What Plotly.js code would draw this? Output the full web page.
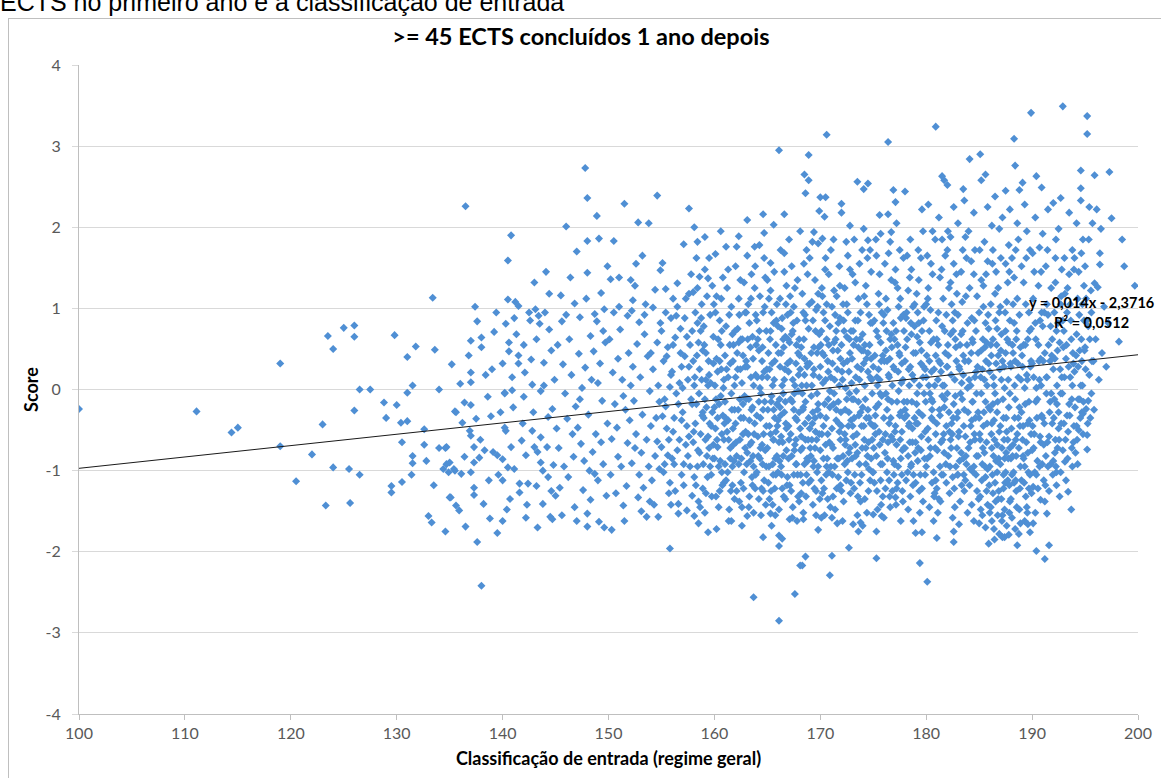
<!DOCTYPE html>
<html>
<head>
<meta charset="utf-8">
<script src="https://cdn.plot.ly/plotly-3.0.1.min.js"></script>
<style>
  html, body { margin: 0; padding: 0; background: #fff; width: 1161px; height: 778px; overflow: hidden; }
  #caption { position: absolute; left: 0; top: -12px; font-family: "Liberation Sans", Arial, sans-serif; font-size: 25px; color: #000; white-space: nowrap; }
  #chart { position: absolute; left: 8px; top: 18px; width: 1153px; height: 760px; border-left: 1px solid #bfbfbf; border-top: 1px solid #bfbfbf; box-sizing: border-box; }
</style>
</head>
<body>
<div id="caption">ECTS no primeiro ano e a classificação de entrada</div>
<div id="chart"></div>
<script>
// ---- Data (entrance grade, score) ----
const chartTitle = ">= 45 ECTS concluídos 1 ano depois";
const xAxisTitle = "Classificação de entrada (regime geral)";
const yAxisTitle = "Score";
const trendLabel = "y = 0,014x - 2,3716";
const r2Label = "R² = 0,0512";
const trendSlope = 0.014;
const trendIntercept = -2.3716;
const xTicks = [100,110,120,130,140,150,160,170,180,190,200];
const yTicks = [-4,-3,-2,-1,0,1,2,3,4];

const pts100_136 = [[100.0,-0.24],[111.1,-0.27],[114.4,-0.53],[115.0,-0.47],[119.0,0.32],[119.0,-0.70],[120.5,-1.13],[122.0,-0.80],[123.0,-0.43],[123.3,-1.43],[123.5,0.66],[124.0,0.50],[124.0,-0.96],[125.0,0.76],[125.5,-0.98],[125.6,-1.40],[126.0,0.79],[126.0,0.65],[126.0,-0.26],[126.5,0.00],[126.5,-1.05],[127.5,0.00],[128.8,-0.16],[129.0,-0.35],[129.5,-1.19],[129.5,-1.27],[129.8,0.67],[130.0,-0.19],[130.4,-0.41],[131.0,-0.39],[130.5,-0.65],[130.5,-1.14],[131.0,0.40],[131.0,-0.04],[131.5,0.05],[131.5,-0.82],[131.5,-0.91],[131.4,-1.05],[131.8,0.53],[132.6,-0.49],[132.6,-0.68],[132.8,-0.88],[133.0,-1.56],[133.3,-1.64],[133.4,1.13],[133.6,0.49],[133.5,-1.18],[134.0,0.00],[134.0,-0.72],[134.6,-0.72],[134.4,-0.98],[134.9,-1.02],[135.5,-1.00],[134.6,-1.75],[134.7,-0.92],[135.0,-1.33],[135.6,-1.43],[135.9,-1.49],[135.2,0.31],[135.6,-0.28],[136.0,0.07],[135.1,-1.33],[135.5,-0.27],[134.7,-0.71],[135.0,-0.90],[135.4,-0.98]];

const pts136_145 = [[136.5,2.26],[136.5,-1.69],[137.6,-1.88],[137.3,-1.30],[137.3,-1.21],[138.0,-2.42],[138.2,-1.41],[138.8,-1.59],[139.5,-1.77],[140.0,-1.62],[137.6,0.84],[137.0,0.60],[138.0,0.64],[138.0,0.52],[137.0,0.21],[137.0,0.09],[139.0,0.25],[140.0,0.32],[140.6,0.58],[140.6,0.47],[141.5,0.42],[141.5,0.32],[140.9,0.15],[140.2,-0.04],[138.6,-0.09],[142.0,0.55],[142.5,0.95],[142.6,0.85],[143.1,0.99],[143.4,0.91],[143.5,0.81],[144.0,0.95],[144.4,1.18],[140.8,1.90],[140.5,1.59],[140.5,1.11],[141.2,1.08],[141.5,1.03],[144.4,0.74],[143.8,-1.41],[144.5,-1.57],
[136.4,-0.16],[137.0,-0.19],[137.5,-0.36],[136.9,-0.51],[137.0,-0.57],[137.3,-0.71],[137.8,-0.84],[137.3,-0.90],[136.1,-1.04],[137.0,-1.02],[136.4,-0.83],[139.1,-0.77],[139.5,-0.81],[140.0,-0.86],[140.2,-0.47],[140.3,-0.51],[140.8,-0.71],[140.5,-0.96],[141.1,-0.98],[141.6,-1.16],[142.4,-1.16],[143.2,-1.19],[140.0,-1.12],[141.9,-0.42],[142.2,-0.81],[143.0,-0.71],[143.3,-0.77],[143.6,-0.90],[143.8,-1.00],[144.3,-1.08],[144.6,-1.25],[142.8,-0.51],[143.6,-0.59],[144.3,-0.34],[144.7,-0.24],[143.9,0.05],[142.8,0.06],[140.9,-0.01],[140.2,-0.05],[142.0,-0.09],
[136.8,0.42],[137.9,-0.62],[138.4,0.18],[138.9,-0.33],[139.2,0.71],[139.6,-1.05],[139.8,-0.28],[138.7,-1.12],[136.2,-0.41],[137.4,1.02],[139.4,0.95],[138.3,-0.75],[140.3,0.81],[140.7,-1.35],[141.0,-0.22],[141.3,0.68],[141.8,-0.63],[142.1,0.21],[142.3,-1.42],[142.7,0.37],[142.9,-0.28],[143.2,0.62],[143.6,-0.02],[143.9,0.33],[144.2,-0.71],[144.6,0.48],[144.8,-0.93],[144.1,1.45],[143.0,1.32],[142.2,-1.58],[141.6,-1.27],[144.9,0.12],[141.1,0.88],[143.3,-1.70],[140.4,-1.48],[144.7,-1.60]];

const pts145_155 = [[145.5,1.16],[146.8,1.06],[145.6,0.84],[147.3,0.89],[148.3,0.66],[148.9,0.84],[149.3,1.19],[149.6,0.99],[146.0,2.01],[148.9,2.14],[148.0,1.83],[149.1,1.86],[147.0,1.70],[148.0,1.44],[147.8,2.73],[148.0,2.36],[146.1,-0.36],[146.6,-0.55],[147.1,-0.47],[147.4,-0.67],[147.7,-0.88],[148.2,-1.00],[148.7,-1.04],[149.0,-1.12],[147.0,-1.62],[148.0,-1.69],[148.0,-1.53],[149.1,-1.63],[149.6,-1.70],[145.0,-1.31],[145.4,-1.21],
[145.2,0.55],[145.7,0.31],[145.9,-0.05],[146.3,0.62],[146.5,0.18],[146.9,-0.21],[147.2,0.44],[147.5,0.02],[147.8,0.27],[148.1,-0.31],[148.4,0.12],[148.6,0.47],[148.8,-0.55],[149.2,0.32],[149.4,-0.14],[149.7,0.58],[149.9,-0.42],[145.3,-0.72],[145.8,-0.95],[146.2,-1.08],[146.7,-0.83],[147.6,-1.24],[148.5,-0.77],[149.5,-0.92],[149.8,-1.31],[146.4,1.38],[147.9,1.12],[149.0,0.08],[145.1,-0.48],[146.8,-1.45],[148.3,-1.36],[149.3,-0.65],[147.3,-0.12],[146.0,0.92],[148.7,0.93],[149.9,1.52],[149.5,0.72],[145.6,-1.55],
[150.3,-1.73],[151.4,-1.43],[153.1,-1.50],[153.6,-1.57],[154.7,-1.57],[151.5,2.29],[154.6,2.39],[152.8,2.06],[153.8,2.05],[150.5,1.83],[152.6,1.55],[151.0,1.38],[152.1,1.35],[152.3,1.10],[152.2,0.97],[154.4,1.23],[150.2,1.36],
[150.1,0.62],[150.4,0.21],[150.6,-0.18],[150.8,-0.47],[150.9,-0.83],[150.2,-1.05],[150.7,-1.28],[150.5,0.95],[150.3,-0.61],[150.9,0.38],[151.1,0.74],[151.3,0.12],[151.6,-0.25],[151.8,-0.66],[151.2,-0.95],[151.7,-1.19],[151.9,0.45],[151.4,-0.08],[151.5,-1.62],[151.0,1.02],[151.8,0.91],
[152.0,-0.38],[152.3,0.28],[152.5,-0.72],[152.7,0.56],[152.9,-1.05],[152.4,-0.14],[152.8,-1.33],[152.1,0.05],[152.6,-0.55],[152.2,-0.91],[152.9,0.83],[152.5,1.28],[153.0,0.15],[153.2,-0.31],[153.4,0.68],[153.6,-0.62],[153.8,-0.95],[153.3,-1.21],[153.7,0.41],[153.9,-0.02],[153.5,1.05],[153.1,-0.78],[153.9,-1.38],[153.4,0.92],[153.2,1.65],
[154.0,-0.45],[154.2,0.25],[154.4,-0.82],[154.6,0.58],[154.8,-0.15],[154.1,-1.12],[154.5,-0.35],[154.9,0.82],[154.3,-1.42],[154.7,0.05],[154.2,1.01],[154.8,-0.98],[154.6,-0.64],[154.0,0.45],[154.9,1.47]];

const pts155_165 = [[155.8,-1.96],[156.6,-1.53],[157.4,-1.49],[158.1,-1.56],[158.5,-1.65],[159.4,-1.76],[157.6,2.23],[158.1,2.00],[159.1,1.88],[157.1,1.79],[156.5,1.31],[156.1,1.12],[157.6,1.18],[158.0,1.20],[158.4,1.25],[158.6,1.39],[159.1,1.48],[159.4,1.37],[155.1,1.56],[155.4,1.24],
[155.0,0.72],[155.2,0.35],[155.3,-0.12],[155.5,-0.48],[155.6,-0.81],[155.8,-1.15],[155.9,0.18],[155.1,-0.33],[155.4,0.95],[155.7,-0.62],[155.2,-1.02],[155.9,-1.42],[155.6,0.52],[155.3,-0.92],[155.8,0.03],[155.0,-0.71],[155.5,0.41],[155.7,-1.28],[155.4,-0.21],[155.9,0.88],
[156.0,0.22],[156.2,-0.35],[156.3,0.64],[156.5,-0.75],[156.7,0.08],[156.9,-1.05],[156.1,-0.52],[156.4,0.91],[156.6,-0.18],[156.8,0.45],[156.2,-0.92],[156.9,-0.38],[156.5,1.02],[156.3,-1.25],[156.7,-0.62],[156.0,-0.85],[156.8,0.75],[156.4,-0.05],[156.6,-1.41],[156.1,0.55],[156.9,0.28],
[157.0,-0.28],[157.2,0.41],[157.3,-0.68],[157.5,0.12],[157.7,-0.95],[157.9,0.72],[157.1,-1.18],[157.4,-0.45],[157.6,0.28],[157.8,-0.12],[157.2,0.88],[157.5,-0.82],[157.9,-1.31],[157.3,1.12],[157.7,0.55],[157.0,0.02],[157.6,-0.58],[157.8,1.42],[157.4,0.65],[157.1,-0.92],[157.9,-0.18],
[158.0,0.35],[158.2,-0.42],[158.4,0.82],[158.6,-0.78],[158.8,0.12],[158.1,-1.08],[158.3,-0.18],[158.5,0.58],[158.7,-0.55],[158.9,-1.22],[158.2,0.95],[158.6,0.25],[158.4,-0.95],[158.8,1.05],[158.0,-0.65],[158.3,1.62],[158.9,-0.28],[158.5,-1.38],[158.7,0.72],[158.1,0.05],[158.9,0.48],[158.4,1.82],
[159.0,-0.35],[159.2,0.45],[159.3,-0.82],[159.5,0.18],[159.7,-1.05],[159.9,0.65],[159.1,-0.12],[159.4,-0.58],[159.6,0.92],[159.8,-0.28],[159.2,-1.28],[159.5,-0.72],[159.9,0.32],[159.3,1.15],[159.7,-0.45],[159.0,0.78],[159.6,-0.95],[159.8,1.28],[159.4,0.05],[159.1,-1.52],[159.9,-0.68],[159.5,1.62],[159.2,0.12],
[160.1,1.67],[161.1,1.76],[162.1,1.76],[162.3,1.89],[163.1,1.65],[163.8,1.76],[164.7,1.93],[160.6,1.95],[163.1,2.09],[164.6,2.16],[161.6,-1.62],[163.1,-1.56],[164.6,-1.82],[163.7,-2.56],
[160.0,-0.22],[160.2,0.38],[160.3,-0.71],[160.5,0.85],[160.7,-1.02],[160.9,0.12],[160.1,-0.48],[160.4,-0.95],[160.6,0.55],[160.8,-0.32],[160.2,1.15],[160.5,-1.25],[160.9,-0.62],[160.3,0.22],[160.7,0.72],[160.0,-0.85],[160.6,-0.08],[160.8,1.38],[160.4,-1.45],[160.1,0.95],[160.9,-1.15],[160.5,0.35],[160.3,-0.35],[160.7,-0.55],[160.2,-1.72],
[161.0,0.42],[161.2,-0.52],[161.3,0.15],[161.5,-0.85],[161.7,0.68],[161.9,-0.25],[161.1,-1.12],[161.4,0.92],[161.6,-0.05],[161.8,-0.68],[161.2,1.25],[161.5,0.32],[161.9,-1.35],[161.3,-0.38],[161.7,-0.95],[161.0,-0.15],[161.6,1.02],[161.8,0.55],[161.4,-1.48],[161.1,0.78],[161.9,0.05],[161.5,-0.72],[161.3,1.48],[161.7,-1.18],[161.0,-0.92],
[162.0,-0.42],[162.2,0.25],[162.3,-0.92],[162.5,0.62],[162.7,-0.18],[162.9,0.95],[162.1,-1.25],[162.4,-0.62],[162.6,0.08],[162.8,-1.02],[162.2,0.75],[162.5,-0.35],[162.9,-0.72],[162.3,1.12],[162.7,0.42],[162.0,0.15],[162.6,-1.45],[162.8,1.32],[162.4,-0.12],[162.1,-0.82],[162.9,0.28],[162.5,-1.15],[162.3,0.58],[162.7,-0.55],[162.0,1.52],[162.6,-1.68],
[163.0,0.35],[163.2,-0.55],[163.3,0.82],[163.5,-0.25],[163.7,-0.95],[163.9,0.18],[163.1,-0.78],[163.4,0.52],[163.6,-1.18],[163.8,-0.42],[163.2,1.05],[163.5,-0.65],[163.9,0.92],[163.3,-1.32],[163.7,0.05],[163.0,-0.12],[163.6,0.65],[163.8,1.25],[163.4,-0.88],[163.1,0.28],[163.9,-1.05],[163.5,1.42],[163.3,-0.38],[163.7,-1.52],[163.0,0.95],[163.6,-0.22],
[164.0,-0.32],[164.2,0.48],[164.3,-0.85],[164.5,0.15],[164.7,-1.12],[164.9,0.72],[164.1,-0.58],[164.4,-0.05],[164.6,0.95],[164.8,-0.75],[164.2,-1.35],[164.5,0.35],[164.9,-0.45],[164.3,1.15],[164.7,0.22],[164.0,-1.02],[164.6,-0.25],[164.8,1.38],[164.4,-1.55],[164.1,0.62],[164.9,-0.95],[164.5,-0.68],[164.3,0.02],[164.7,1.62],[164.0,0.85],[164.6,-1.25],[164.2,-0.15]];

const pts165_175 = [[166.1,2.95],[166.6,2.16],[165.6,2.03],[165.3,1.56],[166.6,1.68],[165.3,-1.53],[166.1,-1.80],[166.4,-1.84],[166.1,-1.93],[167.6,-2.52],[166.1,-2.85],[168.1,-2.17],[167.1,-1.60],[168.3,-2.17],[168.6,-2.06],[168.4,-1.60],[169.8,-1.73],[168.9,2.89],[168.5,2.65],[168.9,2.58],[168.6,2.42],
[165.0,0.15],[165.2,-0.45],[165.3,0.72],[165.5,-0.92],[165.7,0.35],[165.9,-0.18],[165.1,-1.15],[165.4,0.95],[165.6,-0.62],[165.8,0.55],[165.2,-1.35],[165.5,0.05],[165.9,-0.82],[165.3,1.22],[165.7,-0.35],[165.0,-0.72],[165.6,0.82],[165.8,-1.05],[165.4,-0.08],[165.1,0.45],[165.9,1.05],[165.5,-1.42],[165.3,-0.55],[165.7,-1.22],[165.0,1.35],[165.6,-0.25],[165.2,0.25],[165.8,-0.52],[165.4,-1.68],
[166.0,-0.38],[166.2,0.28],[166.3,-0.95],[166.5,0.62],[166.7,-0.15],[166.9,0.92],[166.1,-0.65],[166.4,-1.22],[166.6,0.12],[166.8,-0.48],[166.2,1.12],[166.5,-0.82],[166.9,-1.08],[166.3,0.45],[166.7,-1.35],[166.0,0.78],[166.6,-0.28],[166.8,1.28],[166.4,0.05],[166.1,-1.48],[166.9,0.32],[166.5,-0.05],[166.3,-0.58],[166.7,0.65],[166.0,-1.02],[166.6,1.45],[166.2,-0.22],[166.8,-0.75],[166.4,0.88],
[167.0,0.22],[167.2,-0.55],[167.3,0.68],[167.5,-0.25],[167.7,-0.92],[167.9,0.45],[167.1,-1.18],[167.4,0.12],[167.6,-0.68],[167.8,0.85],[167.2,-0.12],[167.5,1.02],[167.9,-1.32],[167.3,-0.82],[167.7,0.32],[167.0,-0.45],[167.6,1.25],[167.8,-0.38],[167.4,-1.45],[167.1,0.58],[167.9,-0.02],[167.5,-1.05],[167.3,1.52],[167.7,-0.62],[167.0,-0.85],[167.6,0.05],[167.2,0.95],[167.8,-1.62],[167.4,0.72],
[168.0,-0.28],[168.2,0.52],[168.3,-0.72],[168.5,0.18],[168.7,-1.05],[168.9,0.75],[168.1,-0.48],[168.4,0.95],[168.6,-0.15],[168.8,-0.88],[168.2,-1.28],[168.5,0.38],[168.9,-0.35],[168.3,1.18],[168.7,0.05],[168.0,0.62],[168.6,-0.62],[168.8,1.42],[168.4,-1.52],[168.1,0.25],[168.9,-1.15],[168.5,-0.92],[168.3,-0.05],[168.7,1.72],[168.0,-1.38],[168.6,0.85],[168.2,-0.58],[168.8,0.32],[168.4,-0.22],[168.1,1.95],
[169.0,0.32],[169.2,-0.62],[169.3,0.85],[169.5,-0.35],[169.7,-1.02],[169.9,0.15],[169.1,-0.82],[169.4,0.52],[169.6,-1.25],[169.8,-0.18],[169.2,1.08],[169.5,-0.72],[169.9,0.68],[169.3,-1.42],[169.7,-0.05],[169.0,-0.48],[169.6,0.98],[169.8,-0.95],[169.4,0.25],[169.1,-1.12],[169.9,-0.55],[169.5,1.35],[169.3,-0.28],[169.7,0.45],[169.0,1.62],[169.6,-1.55],[169.2,0.05],[169.8,1.18],[169.4,-0.88],
[170.6,3.14],[170.0,2.37],[170.5,2.37],[170.9,-2.29],[171.1,-2.05],[172.7,-1.95],[173.5,2.56],[174.5,2.54],[174.1,2.47],[170.1,-1.58],[171.1,-1.58],[172.0,2.29],[172.0,2.18],[172.8,2.02],[174.1,1.98],[174.5,1.84],[169.9,2.20],[170.4,2.13],[169.4,1.94],[169.8,1.80],[170.2,1.86],[173.6,-1.75],[173.8,-1.64],[173.1,-1.66],
[170.0,-0.32],[170.2,0.45],[170.3,-0.85],[170.5,0.12],[170.7,-0.55],[170.9,0.78],[170.1,-1.12],[170.4,-0.18],[170.6,0.62],[170.8,-1.02],[170.2,1.15],[170.5,-0.68],[170.9,-0.22],[170.3,0.95],[170.7,-1.35],[170.0,0.28],[170.6,-0.95],[170.8,1.42],[170.4,-1.55],[170.1,0.72],[170.9,-0.02],[170.5,1.62],[170.3,-0.45],[170.7,0.35],[170.0,-0.75],[170.6,1.05],[170.2,-1.28],[170.8,0.55],
[171.0,0.15],[171.2,-0.72],[171.3,0.58],[171.5,-0.25],[171.7,-1.08],[171.9,0.38],[171.1,-0.48],[171.4,0.92],[171.6,-0.85],[171.8,0.05],[171.2,-1.32],[171.5,0.72],[171.9,-0.62],[171.3,1.22],[171.7,-0.15],[171.0,-0.95],[171.6,0.25],[171.8,1.52],[171.4,-1.48],[171.1,1.02],[171.9,-1.18],[171.5,-0.38],[171.3,-0.05],[171.7,0.82],[171.0,1.72],[171.6,-1.65],[171.2,0.48],[171.8,-0.52],
[172.0,-0.45],[172.2,0.32],[172.3,-0.92],[172.5,0.65],[172.7,-0.28],[172.9,-1.15],[172.1,0.12],[172.4,-0.62],[172.6,0.95],[172.8,0.45],[172.2,-1.38],[172.5,-0.12],[172.9,0.72],[172.3,1.25],[172.7,-0.78],[172.0,0.55],[172.6,-1.02],[172.8,1.48],[172.4,0.02],[172.1,-1.62],[172.9,-0.38],[172.5,1.05],[172.3,-0.55],[172.7,0.22],[172.0,-1.25],[172.6,1.65],[172.2,0.85],[172.8,-0.72],
[173.0,0.38],[173.2,-0.35],[173.3,0.85],[173.5,-0.78],[173.7,0.12],[173.9,-1.05],[173.1,-0.58],[173.4,0.62],[173.6,-0.15],[173.8,0.95],[173.2,-1.22],[173.5,0.28],[173.9,-0.45],[173.3,1.32],[173.7,-0.92],[173.0,-0.12],[173.6,1.12],[173.8,-1.38],[173.4,-0.02],[173.1,0.72],[173.9,0.48],[173.5,-1.55],[173.3,-0.68],[173.7,1.55],[173.0,-0.85],[173.6,0.52],[173.2,1.85],[173.8,-0.28],
[174.0,-0.22],[174.2,0.55],[174.3,-0.72],[174.5,0.22],[174.7,-1.12],[174.9,0.82],[174.1,-0.45],[174.4,1.05],[174.6,-0.35],[174.8,-0.85],[174.2,-1.35],[174.5,0.45],[174.9,-0.05],[174.3,1.28],[174.7,0.15],[174.0,0.68],[174.6,-0.98],[174.8,1.45],[174.4,-1.52],[174.1,0.32],[174.9,-0.62],[174.5,-0.25],[174.3,-0.92],[174.7,1.72],[174.0,-1.68],[174.6,0.92],[174.2,0.05],[174.8,0.38]];

const pts175_185 = [[175.3,-2.08],[176.4,3.05],[176.9,2.46],[178.0,2.44],[177.1,2.31],[175.6,2.15],[176.4,2.16],[175.7,1.92],[176.7,1.94],[179.4,-2.14],[180.1,-2.37],[179.0,-1.77],[179.6,-1.76],[175.3,-1.75],[175.0,-1.54],[175.8,-1.56],[177.6,-1.62],[177.1,-1.33],
[175.0,0.28],[175.2,-0.55],[175.3,0.72],[175.5,-0.18],[175.7,-0.92],[175.9,0.42],[175.1,-1.15],[175.4,0.05],[175.6,-0.68],[175.8,0.95],[175.2,-0.32],[175.5,1.18],[175.9,-1.32],[175.3,-0.82],[175.7,0.58],[175.0,-0.45],[175.6,1.42],[175.8,-0.08],[175.4,-1.48],[175.1,0.85],[175.9,-0.62],[175.5,0.25],[175.3,1.65],[175.7,-1.12],[175.0,-1.02],[175.6,0.12],
[176.0,-0.35],[176.2,0.48],[176.3,-1.02],[176.5,0.15],[176.7,-0.58],[176.9,0.82],[176.1,-0.78],[176.4,-0.12],[176.6,0.62],[176.8,-1.25],[176.2,1.12],[176.5,-0.42],[176.9,-0.88],[176.3,0.35],[176.7,1.35],[176.0,0.92],[176.6,-1.45],[176.8,0.05],[176.4,-0.65],[176.1,1.55],[176.9,0.28],[176.5,-1.12],[176.3,-0.25],[176.7,0.68],[176.0,-1.58],[176.6,1.82],[176.2,-0.05],
[177.0,0.25],[177.2,-0.68],[177.3,0.55],[177.5,-0.32],[177.7,-1.05],[177.9,0.72],[177.1,-0.45],[177.4,1.02],[177.6,-0.85],[177.8,0.12],[177.2,-1.22],[177.5,0.42],[177.9,-0.15],[177.3,1.25],[177.7,-0.52],[177.0,-0.92],[177.6,0.88],[177.8,-1.38],[177.4,-0.02],[177.1,1.48],[177.9,-0.72],[177.5,1.72],[177.3,-1.15],[177.7,0.32],[177.0,0.62],[177.6,-0.28],[177.2,2.05],
[178.0,-0.25],[178.2,0.62],[178.3,-0.82],[178.5,0.28],[178.7,-0.48],[178.9,1.05],[178.1,-1.12],[178.4,0.05],[178.6,-0.92],[178.8,0.45],[178.2,-0.15],[178.5,-1.32],[178.9,0.78],[178.3,1.22],[178.7,-0.65],[178.0,0.35],[178.6,1.48],[178.8,-1.05],[178.4,-0.42],[178.1,0.88],[178.9,-0.35],[178.5,1.85],[178.3,-1.48],[178.7,0.18],[178.0,-0.72],[178.6,0.68],[178.2,1.65],[178.8,-1.62],
[179.0,0.45],[179.2,-0.42],[179.3,0.82],[179.5,-0.75],[179.7,0.15],[179.9,-1.05],[179.1,-0.18],[179.4,0.58],[179.6,-1.22],[179.8,1.02],[179.2,-0.88],[179.5,0.32],[179.9,-0.52],[179.3,1.35],[179.7,-1.38],[179.0,-0.65],[179.6,0.72],[179.8,-0.05],[179.4,-1.52],[179.1,1.18],[179.9,0.25],[179.5,1.62],[179.3,-0.28],[179.7,1.95],[179.0,-1.15],[179.6,2.22],[179.2,0.95],
[180.9,3.24],[181.7,2.58],[181.5,2.63],[183.5,2.47],[183.6,2.33],[184.1,2.84],[181.0,-1.83],[182.6,-1.88],[182.6,-1.75],[183.1,-1.66],[180.2,2.28],[181.2,2.12],[182.0,2.52],[182.6,2.25],[183.0,2.05],[184.5,2.18],[180.6,1.95],[182.3,1.88],
[180.0,0.15],[180.2,-0.62],[180.3,0.72],[180.5,-0.35],[180.7,-1.02],[180.9,0.42],[180.1,-0.85],[180.4,0.98],[180.6,-0.15],[180.8,-1.28],[180.2,1.25],[180.5,0.22],[180.9,-0.55],[180.3,-1.45],[180.7,0.62],[180.0,-0.95],[180.6,1.42],[180.8,0.05],[180.4,-0.72],[180.1,1.65],[180.9,-1.12],[180.5,-0.12],[180.3,0.35],[180.7,-1.62],[180.0,1.05],
[181.0,-0.42],[181.2,0.35],[181.3,-0.95],[181.5,0.78],[181.7,-0.22],[181.9,-1.15],[181.1,0.12],[181.4,-0.65],[181.6,1.12],[181.8,0.45],[181.2,-1.35],[181.5,-0.08],[181.9,0.92],[181.3,1.38],[181.7,-0.78],[181.0,0.62],[181.6,-1.05],[181.8,1.65],[181.4,0.22],[181.1,-1.52],[181.9,-0.45],[181.5,1.85],[181.3,-0.32],[181.7,0.05],[181.0,-1.22],
[182.0,0.28],[182.2,-0.52],[182.3,0.68],[182.5,-1.08],[182.7,0.12],[182.9,-0.35],[182.1,-0.82],[182.4,1.05],[182.6,-0.18],[182.8,0.52],[182.2,-1.28],[182.5,0.85],[182.9,-0.72],[182.3,1.32],[182.7,-1.45],[182.0,-0.05],[182.6,1.55],[182.8,-0.95],[182.4,-0.42],[182.1,0.42],[182.9,1.18],[182.5,-1.58],[182.3,-0.62],[182.7,0.95],[182.0,1.72],
[183.0,-0.28],[183.2,0.55],[183.3,-0.78],[183.5,0.18],[183.7,-1.12],[183.9,0.82],[183.1,-0.52],[183.4,1.08],[183.6,-0.25],[183.8,-0.92],[183.2,-1.38],[183.5,0.42],[183.9,0.02],[183.3,1.45],[183.7,-0.58],[183.0,0.92],[183.6,-1.25],[183.8,1.62],[183.4,-0.12],[183.1,0.28],[183.9,-1.52],[183.5,-0.85],[183.3,0.68],[183.7,1.88],[183.0,-1.05],
[184.0,0.35],[184.2,-0.45],[184.3,0.88],[184.5,-0.95],[184.7,0.22],[184.9,-0.28],[184.1,-1.18],[184.4,0.58],[184.6,-0.62],[184.8,1.15],[184.2,0.05],[184.5,1.42],[184.9,-0.82],[184.3,-1.42],[184.7,0.72],[184.0,-0.72],[184.6,1.72],[184.8,-1.25],[184.4,-0.15],[184.1,1.25],[184.9,0.45],[184.5,-1.62],[184.3,-0.38],[184.7,-1.05],[184.0,1.95],[184.6,0.15]];

const pts185_200 = [[185.1,2.90],[185.2,2.58],[185.6,2.65],[188.3,3.09],[189.9,3.41],[188.4,2.76],[188.8,2.46],[185.9,-1.90],[185.6,-1.70],[187.4,-1.82],[187.8,-1.79],[189.6,-1.66],[189.8,-1.76],[185.8,2.25],[186.5,2.38],[187.2,2.12],[187.9,2.22],[188.6,2.05],[189.3,2.28],[186.2,2.02],[189.1,2.55],[187.5,2.45],[186.9,1.98],
[185.0,-0.35],[185.2,0.48],[185.3,-0.92],[185.5,0.12],[185.7,-1.25],[185.9,0.75],[185.1,-0.62],[185.4,1.02],[185.6,-0.15],[185.8,-1.42],[185.2,1.35],[185.5,-0.78],[185.9,0.32],[185.3,-1.55],[185.7,0.58],[185.0,0.95],[185.6,-1.08],[185.8,1.58],[185.4,-0.45],[185.1,-1.32],[185.9,-0.22],[185.5,1.82],[185.3,0.25],[185.7,-0.65],[185.0,-1.65],[185.6,0.82],[185.2,-0.05],[185.8,-0.98],[185.4,1.28],
[186.0,0.22],[186.2,-0.72],[186.3,0.62],[186.5,-1.15],[186.7,-0.28],[186.9,0.95],[186.1,-1.45],[186.4,0.05],[186.6,-0.88],[186.8,0.42],[186.2,-1.62],[186.5,1.18],[186.9,-0.52],[186.3,-1.28],[186.7,0.75],[186.0,-0.95],[186.6,1.45],[186.8,-1.35],[186.4,-0.38],[186.1,1.05],[186.9,-1.78],[186.5,-0.05],[186.3,1.72],[186.7,-1.02],[186.0,-1.52],[186.6,0.32],[186.2,-0.42],[186.8,1.25],[186.4,-1.72],[186.1,0.55],[186.7,-0.68],[186.3,-0.18],
[187.0,-0.45],[187.2,0.35],[187.3,-1.05],[187.5,0.72],[187.7,-0.62],[187.9,-1.38],[187.1,0.12],[187.4,-0.85],[187.6,1.08],[187.8,-0.22],[187.2,-1.55],[187.5,0.45],[187.9,0.85],[187.3,-1.22],[187.7,1.32],[187.0,-0.92],[187.6,-1.68],[187.8,0.58],[187.4,0.02],[187.1,-1.35],[187.9,-0.72],[187.5,1.55],[187.3,-0.35],[187.7,-1.12],[187.0,1.02],[187.6,-0.52],[187.2,-1.82],[187.8,1.78],[187.4,-1.48],[187.1,0.68],[187.9,-0.05],[187.5,-1.02],
[188.0,0.28],[188.2,-0.68],[188.3,0.82],[188.5,-1.25],[188.7,-0.35],[188.9,0.52],[188.1,-1.05],[188.4,-0.12],[188.6,1.12],[188.8,-1.48],[188.2,0.45],[188.5,-0.82],[188.9,-1.65],[188.3,1.38],[188.7,0.15],[188.0,-1.35],[188.6,-0.55],[188.8,0.92],[188.4,-1.72],[188.1,1.62],[188.9,-0.95],[188.5,0.62],[188.3,-1.15],[188.7,1.85],[188.0,-0.85],[188.6,-1.92],[188.2,1.05],[188.8,-0.22],[188.4,0.35],[188.1,-1.58],
[189.0,-0.28],[189.2,0.55],[189.3,-0.95],[189.5,0.18],[189.7,-1.22],[189.9,0.75],[189.1,-0.62],[189.4,1.05],[189.6,-0.42],[189.8,-1.05],[189.2,1.32],[189.5,-1.45],[189.9,0.35],[189.3,0.02],[189.7,0.95],[189.0,1.52],[189.6,-0.78],[189.8,1.72],[189.4,-1.32],[189.1,0.28],[189.9,-0.55],[189.5,1.95],[189.3,-1.62],[189.7,-0.15],[189.0,-1.12],[189.6,0.62],[189.2,-0.85],
[190.4,2.63],[190.9,2.49],[192.9,3.49],[192.7,2.36],[192.0,2.30],[194.6,2.70],[194.6,2.48],[194.6,2.33],[195.2,3.37],[195.2,3.15],[190.4,-1.99],[191.2,-2.09],[191.6,-1.92],[191.4,-1.53],[190.8,-1.36],[190.1,-1.20],[193.4,-1.26],[193.1,-0.89],[192.7,-1.02],[192.3,-1.02],[190.3,2.12],[191.5,2.22],[192.5,1.98],[193.5,2.18],[194.2,2.05],[191.0,1.92],[193.8,1.72],[194.8,1.85],[192.2,1.62],[190.7,1.75],
[190.0,0.32],[190.2,-0.55],[190.3,0.82],[190.5,-0.88],[190.7,0.12],[190.9,-0.32],[190.1,1.12],[190.4,-1.05],[190.6,0.55],[190.8,-0.65],[190.2,1.45],[190.5,-0.12],[190.9,0.95],[190.3,-1.52],[190.7,-0.95],[190.0,-0.75],[190.6,1.28],[190.8,0.38],[190.4,0.02],[190.1,-1.65],
[191.0,-0.35],[191.2,0.45],[191.3,-0.82],[191.5,0.92],[191.7,-0.15],[191.9,0.62],[191.1,-1.12],[191.4,0.15],[191.6,-0.58],[191.8,1.25],[191.2,-1.38],[191.5,-0.95],[191.9,-0.42],[191.3,1.52],[191.7,0.35],[191.0,0.78],[191.6,-1.25],[191.8,-0.05],[191.4,1.05],[191.1,-0.68],
[192.0,0.25],[192.2,-0.62],[192.3,0.72],[192.5,-0.28],[192.7,1.05],[192.9,-0.75],[192.1,-0.12],[192.4,0.48],[192.6,-1.32],[192.8,0.15],[192.2,1.32],[192.5,-0.48],[192.9,0.85],[192.3,-1.18],[192.7,-0.05],[192.0,-0.88],[192.6,0.58],[192.8,1.48],[192.4,-0.72],[192.1,0.95],
[193.0,-0.42],[193.2,0.38],[193.3,0.95],[193.5,-0.18],[193.7,0.62],[193.9,-0.65],[193.1,1.18],[193.4,-0.52],[193.6,0.15],[193.8,-0.95],[193.2,-1.12],[193.5,1.42],[193.9,0.32],[193.3,-0.32],[193.7,-1.48],[193.0,0.72],[193.6,1.05],[193.8,0.05],
[194.0,0.22],[194.2,-0.45],[194.3,1.12],[194.5,0.48],[194.7,-0.28],[194.9,0.85],[194.1,-0.78],[194.4,1.45],[194.6,0.05],[194.8,-0.55],[194.2,0.68],[194.5,-0.12],[194.9,1.28],[194.3,-0.92],[194.7,0.35],[194.4,-0.50],[194.8,-0.30],[194.0,1.62],
[195.2,-0.74],[195.2,-0.56],[195.3,-0.14],[195.1,-0.24],[195.9,2.64],[197.3,2.68],[197.5,2.11],[198.5,1.85],[198.7,1.52],[199.7,1.28],[198.2,0.59],[195.9,1.31],[196.2,1.26],[196.4,1.68],[196.4,1.54],[196.5,1.98],
[195.0,0.52],[195.4,0.18],[195.6,0.95],[195.1,1.12],[195.5,-0.35],[195.3,0.78],[195.8,0.35],[195.7,2.05],[196.0,0.62],[196.8,1.02],[197.0,0.28],[196.3,0.12],[195.0,1.52],[195.4,2.25],[196.1,2.22],[195.6,-0.05],[197.2,0.82],[196.6,0.45]];

// dense core, 158-195
const ptsCore = [[158.05,-0.52],[158.15,0.15],[158.25,-1.18],[158.35,0.42],[158.45,-0.75],[158.55,-0.05],[158.65,-1.45],[158.75,0.88],[158.85,-0.32],[158.95,-0.92],
[159.05,0.55],[159.15,-0.62],[159.25,-0.22],[159.35,-1.08],[159.45,0.35],[159.55,-0.42],[159.65,0.08],[159.75,-1.32],[159.85,-0.85],[159.95,1.05],
[160.05,0.05],[160.15,-1.32],[160.25,-0.62],[160.35,0.62],[160.45,-0.18],[160.55,-0.88],[160.65,0.25],[160.75,-1.18],[160.85,0.02],[160.95,-0.42],[160.15,-0.12],[160.65,1.12],
[161.05,-0.35],[161.15,0.25],[161.25,-1.02],[161.35,-0.62],[161.45,0.55],[161.55,-1.25],[161.65,-0.25],[161.75,0.35],[161.85,-0.88],[161.95,0.72],[161.35,-1.62],[161.75,-0.48],
[162.05,-0.65],[162.15,0.45],[162.25,-0.25],[162.35,-1.38],[162.45,0.25],[162.55,-0.85],[162.65,0.62],[162.75,-1.22],[162.85,-0.08],[162.95,-0.52],[162.35,0.92],[162.75,-0.35],
[163.05,-0.92],[163.15,0.62],[163.25,-0.12],[163.35,-0.68],[163.45,0.15],[163.55,-1.08],[163.65,0.38],[163.75,-0.55],[163.85,-1.22],[163.95,0.55],[163.25,-1.45],[163.65,-0.82],[163.45,1.12],
[164.05,0.15],[164.15,-0.82],[164.25,0.72],[164.35,-0.35],[164.45,-1.22],[164.55,0.52],[164.65,-0.55],[164.75,-0.15],[164.85,-1.42],[164.95,0.25],[164.35,-0.72],[164.75,1.02],[164.55,-0.92],
[165.05,-0.25],[165.15,-0.95],[165.25,0.62],[165.35,-1.25],[165.45,0.32],[165.55,-0.62],[165.65,0.12],[165.75,-0.85],[165.85,0.85],[165.95,-0.45],[165.35,-0.15],[165.75,-1.55],[165.15,1.12],[165.55,-1.05],
[166.05,0.45],[166.15,-0.88],[166.25,-0.32],[166.35,0.75],[166.45,-0.65],[166.55,-1.32],[166.65,0.25],[166.75,-0.42],[166.85,-1.18],[166.95,0.62],[166.35,-1.05],[166.75,1.05],[166.15,-0.12],[166.55,0.52],
[167.05,-0.62],[167.15,0.35],[167.25,-1.25],[167.35,-0.15],[167.45,0.82],[167.55,-0.75],[167.65,-0.35],[167.75,0.55],[167.85,-1.05],[167.95,0.18],[167.35,-1.58],[167.75,-0.92],[167.15,1.15],[167.55,-0.05],
[168.05,0.42],[168.15,-0.75],[168.25,0.05],[168.35,-1.15],[168.45,0.62],[168.55,-0.42],[168.65,-1.32],[168.75,0.28],[168.85,-0.62],[168.95,1.05],[168.35,-0.25],[168.75,-0.85],[168.15,-1.05],[168.55,0.92],
[169.05,-0.72],[169.15,0.45],[169.25,-0.42],[169.35,0.18],[169.45,-1.22],[169.55,0.72],[169.65,-0.62],[169.75,-0.25],[169.85,0.52],[169.95,-1.35],[169.35,-0.95],[169.75,1.02],[169.15,-0.08],[169.55,-0.52],
[170.05,0.55],[170.15,-0.55],[170.25,0.08],[170.35,-1.22],[170.45,0.85],[170.55,-0.35],[170.65,-0.85],[170.75,0.22],[170.85,-0.65],[170.95,-1.45],[170.35,0.42],[170.75,-0.12],[170.15,1.25],[170.55,-1.05],
[171.05,-0.68],[171.15,0.32],[171.25,-0.18],[171.35,-0.95],[171.45,0.62],[171.55,-1.22],[171.65,0.48],[171.75,-0.42],[171.85,0.88],[171.95,-0.28],[171.35,0.12],[171.75,-0.85],[171.15,-1.05],[171.55,1.15],
[172.05,0.22],[172.15,-0.82],[172.25,0.72],[172.35,-0.25],[172.45,-1.12],[172.55,0.35],[172.65,-0.45],[172.75,0.62],[172.85,-1.28],[172.95,0.08],[172.35,-0.68],[172.75,-0.05],[172.15,1.05],[172.55,-0.88],
[173.05,-0.45],[173.15,0.55],[173.25,-1.05],[173.35,0.15],[173.45,-0.55],[173.55,0.85],[173.65,-0.32],[173.75,-1.15],[173.85,0.25],[173.95,-0.72],[173.35,-0.82],[173.75,0.62],[173.15,-0.12],[173.55,-1.32],
[174.05,0.48],[174.15,-0.62],[174.25,-0.12],[174.35,0.38],[174.45,-0.82],[174.55,-1.25],[174.65,0.55],[174.75,-0.42],[174.85,0.12],[174.95,-1.02],[174.35,-0.35],[174.75,0.82],[174.15,1.15],[174.55,-0.65],
[175.05,-0.72],[175.15,0.42],[175.25,-0.22],[175.35,-1.25],[175.45,0.65],[175.55,-0.52],[175.65,-0.05],[175.75,0.35],[175.85,-0.92],[175.95,0.82],[175.35,0.15],[175.75,-1.42],[175.15,-0.45],[175.55,1.05],
[176.05,0.35],[176.15,-0.55],[176.25,0.72],[176.35,-0.85],[176.45,0.18],[176.55,-1.32],[176.65,-0.35],[176.75,0.52],[176.85,-0.62],[176.95,-1.05],[176.35,0.98],[176.75,-0.15],[176.15,-1.22],[176.55,0.38],
[177.05,-0.52],[177.15,0.72],[177.25,-0.15],[177.35,-0.95],[177.45,0.45],[177.55,-0.62],[177.65,0.08],[177.75,-1.25],[177.85,0.92],[177.95,-0.35],[177.35,0.22],[177.75,-0.75],[177.15,-1.42],[177.55,1.12],
[178.05,0.52],[178.15,-0.32],[178.25,-1.02],[178.35,0.25],[178.45,-0.65],[178.55,0.82],[178.65,-0.15],[178.75,-1.18],[178.85,0.12],[178.95,-0.78],[178.35,-0.45],[178.75,1.02],[178.15,0.95],[178.55,-0.95],
[179.05,-0.42],[179.15,0.65],[179.25,-0.72],[179.35,0.05],[179.45,-1.05],[179.55,0.48],[179.65,-0.32],[179.75,0.85],[179.85,-0.85],[179.95,-0.15],[179.35,-1.25],[179.75,0.28],[179.15,-0.05],[179.55,-0.58],
[180.05,0.42],[180.15,-0.48],[180.25,0.05],[180.35,-0.82],[180.45,0.58],[180.55,-1.15],[180.65,-0.38],[180.75,0.25],[180.85,-0.72],[180.95,0.85],[180.35,-0.05],[180.75,-1.32],[180.15,1.12],[180.55,-0.25],
[181.05,-0.75],[181.15,0.55],[181.25,-0.25],[181.35,0.32],[181.45,-1.05],[181.55,0.05],[181.65,-0.55],[181.75,0.72],[181.85,-0.92],[181.95,0.28],[181.35,-1.38],[181.75,-0.12],[181.15,0.95],[181.55,-0.62],
[182.05,0.55],[182.15,-0.28],[182.25,-0.95],[182.35,0.18],[182.45,-0.55],[182.55,0.72],[182.65,-1.22],[182.75,-0.08],[182.85,0.35],[182.95,-1.05],[182.35,-0.72],[182.75,0.62],[182.15,1.25],[182.55,-0.35],
[183.05,-0.58],[183.15,0.25],[183.25,-0.05],[183.35,-1.18],[183.45,0.72],[183.55,-0.45],[183.65,0.35],[183.75,-0.82],[183.85,0.55],[183.95,-0.28],[183.35,0.08],[183.75,1.15],[183.15,-0.88],[183.55,-1.05],
[184.05,0.12],[184.15,-0.65],[184.25,0.45],[184.35,-0.15],[184.45,-1.02],[184.55,0.85],[184.65,-0.35],[184.75,-0.82],[184.85,0.28],[184.95,-1.35],[184.35,0.62],[184.75,-0.05],[184.15,-0.98],[184.55,-0.55],
[185.05,-0.55],[185.15,0.15],[185.25,-1.12],[185.35,0.62],[185.45,-0.28],[185.55,-0.95],[185.65,0.35],[185.75,-0.42],[185.85,0.92],[185.95,-1.18],[185.35,-0.72],[185.75,0.05],[185.15,-1.48],[185.55,0.52],
[186.05,-0.25],[186.15,0.42],[186.25,-1.05],[186.35,0.15],[186.45,-0.62],[186.55,-1.38],[186.65,0.55],[186.75,-0.15],[186.85,-0.85],[186.95,0.25],[186.35,-0.82],[186.75,-1.55],[186.15,-0.55],[186.55,0.85],[186.45,-1.85],[186.85,-1.25],
[187.05,0.48],[187.15,-0.72],[187.25,-0.12],[187.35,0.28],[187.45,-1.15],[187.55,-0.35],[187.65,0.62],[187.75,-0.85],[187.85,-1.52],[187.95,0.32],[187.35,-0.62],[187.75,0.12],[187.15,-1.62],[187.55,-0.78],[187.45,0.95],[187.85,-1.18],
[188.05,-0.48],[188.15,0.55],[188.25,-1.02],[188.35,0.05],[188.45,-0.62],[188.55,-1.45],[188.65,0.32],[188.75,-0.72],[188.85,-1.22],[188.95,0.12],[188.35,-0.35],[188.75,-1.78],[188.15,-0.82],[188.55,0.72],[188.45,-1.12],[188.85,-0.45],
[189.05,0.42],[189.15,-0.45],[189.25,-1.15],[189.35,0.55],[189.45,-0.65],[189.55,0.12],[189.65,-1.02],[189.75,-0.38],[189.85,0.28],[189.95,-1.28],[189.35,-0.18],[189.75,0.72],[189.15,-0.82],[189.55,-1.52],
[190.05,-0.45],[190.15,0.15],[190.25,-1.02],[190.35,0.62],[190.45,-0.35],[190.55,-1.22],[190.65,0.35],[190.75,-0.58],[190.85,0.05],[190.95,-0.92],[190.35,-0.15],[190.75,0.85],[190.15,-0.72],
[191.05,0.35],[191.15,-0.42],[191.25,-1.18],[191.35,0.15],[191.45,-0.65],[191.55,0.55],[191.65,-0.28],[191.75,-0.92],[191.85,0.42],[191.95,-1.05],[191.35,-0.05],[191.75,0.78],[191.15,0.95],
[192.05,-0.35],[192.15,0.38],[192.25,-0.95],[192.35,0.05],[192.45,0.82],[192.55,-0.62],[192.65,0.25],[192.75,-0.42],[192.85,-0.05],[192.95,0.52],[192.35,-0.18],[192.75,1.15],[192.15,-0.78],
[193.05,0.15],[193.15,-0.62],[193.25,0.55],[193.35,-0.85],[193.45,0.28],[193.55,-0.32],[193.65,0.85],[193.75,-0.12],[193.85,0.45],[193.95,-0.45],[193.35,1.25],[193.75,-0.72],
[194.05,-0.22],[194.15,0.42],[194.25,-0.62],[194.35,0.28],[194.45,0.92],[194.55,-0.35],[194.65,0.62],[194.75,0.05],[194.85,-0.15],[194.95,0.48],[194.35,-0.12],[194.75,1.05],
[195.05,0.25],[195.25,-0.42],[195.45,0.62],[195.65,0.35],[195.85,-0.25],[195.15,0.85],[195.55,1.22]];

// upper band, 162-195
const ptsUpper = [[162.45,1.35],[163.85,1.52],[164.25,1.78],[165.65,1.45],[166.25,1.72],[167.05,1.85],[167.85,1.35],[168.45,1.55],[169.25,1.82],[170.45,1.48],[171.25,1.85],[171.85,1.28],[172.45,1.82],[173.05,1.42],[173.95,1.72],[174.45,1.62],[175.25,1.85],[176.45,1.68],[177.05,1.32],[177.85,1.62],[178.45,1.38],[179.25,1.72],[180.45,1.55],[180.85,1.85],[181.45,1.48],[182.05,1.95],[182.85,1.42],[183.45,1.72],[184.25,1.58],[185.05,1.72],[185.65,1.42],[186.25,1.55],[187.05,1.62],[187.85,1.45],[188.45,1.72],[189.45,1.62],[190.05,1.68],[190.85,1.45],[191.45,1.72],[192.25,1.85],[193.05,1.62],[193.95,1.48],[194.65,1.68],[195.35,1.85]];

// ---- Build traces ----
const allPts = [].concat(pts100_136, pts136_145, pts145_155, pts155_165, pts165_175, pts175_185, pts185_200, ptsCore, ptsUpper);
const grade = allPts.map(p => p[0]);
const score = allPts.map(p => p[1]);

const xMin = xTicks[0], xMax = xTicks[xTicks.length - 1];
const trendX = [xMin, xMax];
const trendY = trendX.map(x => trendSlope * x + trendIntercept);

const FONT = "Lato, 'Open Sans', 'Liberation Sans', sans-serif";

const data = [
  {
    x: grade, y: score, type: 'scatter', mode: 'markers',
    marker: { symbol: 'diamond', size: 6.2, color: '#4F8FD4', line: { width: 0 } },
    hoverinfo: 'x+y', showlegend: false
  },
  {
    x: trendX, y: trendY, type: 'scatter', mode: 'lines',
    line: { color: '#1a1a1a', width: 1 }, hoverinfo: 'skip', showlegend: false
  }
];

const layout = {
  width: 1153, height: 760,
  paper_bgcolor: '#ffffff', plot_bgcolor: '#ffffff',
  margin: { l: 70, r: 24, t: 46, b: 65 },
  font: { family: FONT, color: '#595959', size: 16 },
  title: {
    text: chartTitle, xref: 'container', x: 0.496, xanchor: 'center',
    yref: 'container', y: 0.988, yanchor: 'top',
    font: { family: FONT, size: 23.5, color: '#000000', weight: 'bold' }
  },
  xaxis: {
    range: [xMin, xMax], tickvals: xTicks, ticktext: xTicks.map(String),
    showgrid: false, zeroline: false, showline: true, linecolor: '#bfbfbf', linewidth: 1,
    ticks: 'outside', ticklen: 5, tickcolor: '#bfbfbf',
    tickfont: { family: FONT, size: 16, color: '#595959' },
    title: { text: xAxisTitle, standoff: 11, font: { family: FONT, size: 18, color: '#000000', weight: 'bold' } }
  },
  yaxis: {
    range: [yTicks[0], yTicks[yTicks.length - 1]], tickvals: yTicks, ticktext: yTicks.map(String),
    showgrid: true, gridcolor: '#d9d9d9', gridwidth: 1,
    zeroline: false, showline: true, linecolor: '#bfbfbf', linewidth: 1,
    ticks: 'outside', ticklen: 6, tickcolor: '#d9d9d9', ticklabelstandoff: 8,
    tickfont: { family: FONT, size: 16, color: '#595959' },
    title: { text: yAxisTitle, standoff: 2, font: { family: FONT, size: 18, color: '#000000', weight: 'bold' } }
  },
  annotations: [
    { x: 195.6, y: 1.07, xref: 'x', yref: 'y', text: '<b>' + trendLabel + '</b>', showarrow: false,
      font: { family: FONT, size: 14.5, color: '#000000' }, xanchor: 'center', yanchor: 'middle' },
    { x: 195.6, y: 0.83, xref: 'x', yref: 'y', text: '<b>' + r2Label + '</b>', showarrow: false,
      font: { family: FONT, size: 14.5, color: '#000000' }, xanchor: 'center', yanchor: 'middle' }
  ]
};

Plotly.newPlot('chart', data, layout, { displayModeBar: false, staticPlot: true });
</script>
</body>
</html>
